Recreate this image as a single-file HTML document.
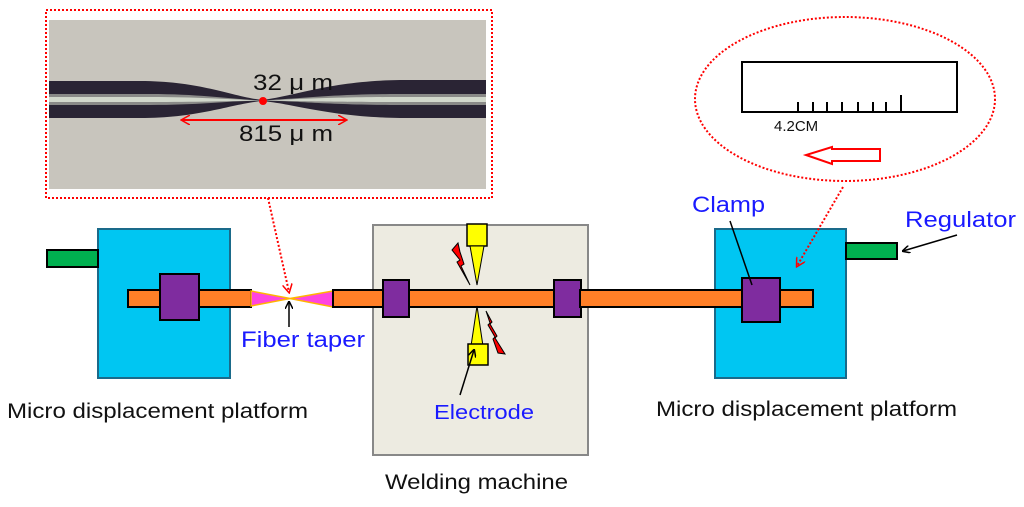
<!DOCTYPE html>
<html><head><meta charset="utf-8"><style>html,body{margin:0;padding:0;background:#fff}svg{display:block}</style></head>
<body>
<svg width="1024" height="507" viewBox="0 0 1024 507" xmlns="http://www.w3.org/2000/svg" font-family="Liberation Sans, sans-serif">
<defs>
<marker id="ah" markerWidth="8" markerHeight="8" refX="7" refY="4" orient="auto" markerUnits="userSpaceOnUse"><path d="M0,0 L8,4 L0,8" fill="none" stroke="#000" stroke-width="1.5"/></marker>
<marker id="rh" markerWidth="10" markerHeight="10" refX="8" refY="5" orient="auto" markerUnits="userSpaceOnUse"><path d="M0,0 L9,5 L0,10" fill="none" stroke="#f00" stroke-width="1.5"/></marker>
<marker id="rh2" markerWidth="10" markerHeight="10" refX="8" refY="5" orient="auto-start-reverse" markerUnits="userSpaceOnUse"><path d="M0,0 L9,5 L0,10" fill="none" stroke="#f00" stroke-width="1.5"/></marker>
</defs>
<!-- photo -->
<rect x="46" y="10" width="446" height="188" fill="none" stroke="#f00" stroke-width="2" stroke-dasharray="2,2"/>
<rect x="49" y="20" width="437" height="169" fill="#c8c5bd"/>
<path d="M49,81 L140,81 C200,81 230,96 262,100 C295,96 330,81 400,80 L486,80 L486,118 L400,118 C330,117 295,104 262,101 C230,104 200,118 140,118 L49,118 Z" fill="#2a2434"/>
<path d="M49,94 L150,94 C200,94 230,99 262,100.5 C295,99 330,94 400,94 L486,94 L486,105 L400,105 C330,105 295,101 262,100.5 C230,101 200,105 150,105 L49,105 Z" fill="#8a8a88"/>
<path d="M49,97 L150,97 C200,97 230,99.5 262,100.5 C295,99.5 330,97 400,97 L486,97 L486,102 L400,102 C330,102 295,101 262,100.5 C230,101 200,102 150,102 L49,102 Z" fill="#d2d8cc"/>
<circle cx="263" cy="101" r="4" fill="#f00"/>
<line x1="182" y1="120" x2="346" y2="120" stroke="#f00" stroke-width="2" marker-start="url(#rh2)" marker-end="url(#rh)"/>
<text x="253" y="90" font-size="22" fill="#111" textLength="80" lengthAdjust="spacingAndGlyphs">32 μ m</text>
<text x="239" y="141" font-size="22" fill="#111" textLength="94" lengthAdjust="spacingAndGlyphs">815 μ m</text>
<!-- ellipse -->
<ellipse cx="845" cy="99" rx="150" ry="82" fill="none" stroke="#f00" stroke-width="2" stroke-dasharray="2,2"/>
<rect x="742" y="62" width="215" height="50" fill="#fff" stroke="#000" stroke-width="2"/>
<g stroke="#000" stroke-width="2">
<line x1="798" y1="112" x2="798" y2="102"/><line x1="813" y1="112" x2="813" y2="102"/><line x1="827" y1="112" x2="827" y2="102"/><line x1="842" y1="112" x2="842" y2="102"/><line x1="858" y1="112" x2="858" y2="102"/><line x1="873" y1="112" x2="873" y2="102"/><line x1="886" y1="112" x2="886" y2="102"/><line x1="901" y1="112" x2="901" y2="95"/>
</g>
<text x="774" y="131" font-size="15" fill="#111">4.2CM</text>
<path d="M880,149 L832,149 L832,147 L806,155 L832,164 L832,161 L880,161 Z" fill="#fff" stroke="#f00" stroke-width="2"/>
<!-- left platform -->
<rect x="98" y="229" width="132" height="149" fill="#00c6f2" stroke="#1a6a8a" stroke-width="2"/>
<rect x="47" y="250" width="51" height="17" fill="#00b050" stroke="#000" stroke-width="2"/>
<rect x="128" y="290" width="123" height="17" fill="#ff7f27" stroke="#000" stroke-width="2"/>
<rect x="160" y="274" width="39" height="46" fill="#7f2c9f" stroke="#000" stroke-width="2"/>
<path d="M251,291 L290,298.5 L333,291 L333,307 L290,298.5 L251,306 Z" fill="#ff44e0" stroke="#ffb400" stroke-width="1.5"/>
<line x1="289" y1="327" x2="289" y2="302" stroke="#000" stroke-width="1.5" marker-end="url(#ah)"/>
<text x="241" y="347" font-size="22" fill="#1a1aff" textLength="124" lengthAdjust="spacingAndGlyphs">Fiber taper</text>
<path d="M268,198 L289,292" stroke="#f00" stroke-width="2" stroke-dasharray="2,2" fill="none" marker-end="url(#rh)"/>
<!-- welding machine -->
<rect x="373" y="225" width="215" height="230" fill="#edebe1" stroke="#888" stroke-width="2"/>
<rect x="333" y="290" width="480" height="17" fill="#ff7f27" stroke="#000" stroke-width="2"/>
<rect x="383" y="280" width="26" height="37" fill="#7f2c9f" stroke="#000" stroke-width="2"/>
<rect x="554" y="280" width="27" height="37" fill="#7f2c9f" stroke="#000" stroke-width="2"/>
<rect x="467" y="224" width="20" height="22" fill="#ffff00" stroke="#000" stroke-width="1.5"/>
<path d="M470,246 L484,246 L477,285 Z" fill="#ffff00" stroke="#000" stroke-width="1"/>
<path d="M477,306 L471,346 L483,346 Z" fill="#ffff00" stroke="#000" stroke-width="1"/>
<rect x="468" y="344" width="20" height="21" fill="#ffff00" stroke="#000" stroke-width="1.5"/>
<path d="M458,243 L452,250 L460,260 L457,262 L470,285 L461,266 L464,264 L460,252 Z" fill="#f00" stroke="#000" stroke-width="1"/>
<path d="M486,311 L492,322 L490,324 L497,336 L495,338 L505,354 L498,353 L493,339 L495,337 L488,325 L490,323 Z" fill="#f00" stroke="#000" stroke-width="1"/>
<line x1="460" y1="395" x2="474" y2="350" stroke="#000" stroke-width="1.5" marker-end="url(#ah)"/>
<text x="434" y="419" font-size="20" fill="#1a1aff" textLength="100" lengthAdjust="spacingAndGlyphs">Electrode</text>
<text x="385" y="489" font-size="21" fill="#111" textLength="183" lengthAdjust="spacingAndGlyphs">Welding machine</text>
<!-- right platform -->
<rect x="715" y="229" width="131" height="149" fill="#00c6f2" stroke="#1a6a8a" stroke-width="2"/>
<rect x="846" y="243" width="51" height="16" fill="#00b050" stroke="#000" stroke-width="2"/>
<rect x="580" y="290" width="233" height="17" fill="#ff7f27" stroke="#000" stroke-width="2"/>
<rect x="742" y="278" width="38" height="44" fill="#7f2c9f" stroke="#000" stroke-width="2"/>
<line x1="730" y1="221" x2="752" y2="285" stroke="#000" stroke-width="1.5"/>
<text x="692" y="212" font-size="22" fill="#1a1aff" textLength="73" lengthAdjust="spacingAndGlyphs">Clamp</text>
<line x1="957" y1="235" x2="903" y2="251" stroke="#000" stroke-width="1.5" marker-end="url(#ah)"/>
<text x="905" y="227" font-size="22" fill="#1a1aff" textLength="111" lengthAdjust="spacingAndGlyphs">Regulator</text>
<path d="M843,187 L797,266" stroke="#f00" stroke-width="2" stroke-dasharray="2,2" fill="none" marker-end="url(#rh)"/>
<text x="7" y="418" font-size="21" fill="#111" textLength="301" lengthAdjust="spacingAndGlyphs">Micro displacement platform</text>
<text x="656" y="416" font-size="21" fill="#111" textLength="301" lengthAdjust="spacingAndGlyphs">Micro displacement platform</text>
</svg>
</body></html>
